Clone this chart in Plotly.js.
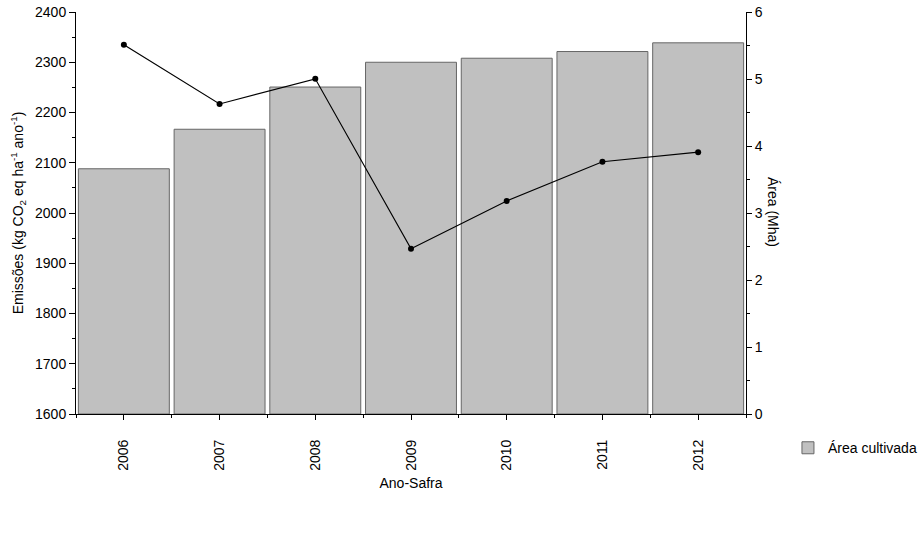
<!DOCTYPE html>
<html>
<head>
<meta charset="utf-8">
<script src="https://cdn.plot.ly/plotly-3.0.1.min.js"></script>
<style>html,body{margin:0;padding:0;background:#fff;}#chart{width:923px;height:537px;}</style>
</head>
<body>
<div id="chart"></div>
<script>
// Data
const years = [2006, 2007, 2008, 2009, 2010, 2011, 2012];
const areaCultivada = [3.66, 4.25, 4.88, 5.25, 5.31, 5.41, 5.54];      // Mha (right axis)
const emissoes = [2335, 2217, 2267, 1929, 2024, 2102, 2121];           // kg CO2 eq ha-1 ano-1 (left axis)
const tickLabels = ['2006', '2007', '2008', '2009', '2010', '2011', '2012'];

const FONT = 'Liberation Sans, Arial, sans-serif';

const traces = [
  {
    type: 'bar',
    x: years,
    y: areaCultivada,
    name: 'Área cultivada',
    xaxis: 'x',
    yaxis: 'y',
    marker: {color: '#c0c0c0', line: {color: '#666666', width: 1}},
    showlegend: true,
    hoverinfo: 'x+y'
  },
  {
    type: 'scatter',
    mode: 'lines+markers',
    x: years,
    y: emissoes,
    name: 'Emissões',
    xaxis: 'x',
    yaxis: 'y2',
    line: {color: '#000000', width: 1.2},
    marker: {color: '#000000', size: 6},
    showlegend: false
  }
];

const layout = {
  width: 923,
  height: 537,
  margin: {l: 76, r: 177, t: 12, b: 123},
  paper_bgcolor: '#ffffff',
  plot_bgcolor: '#ffffff',
  font: {family: FONT, size: 14, color: '#000000'},
  bargap: 0.05,
  xaxis: {
    range: [2005.5, 2012.5],
    tickmode: 'array',
    tickvals: years,
    ticktext: tickLabels,
    tickangle: -90,
    ticks: 'outside',
    ticklen: 5,
    tickcolor: '#000',
    ticklabelstandoff: 14,
    minor: {tickmode: 'linear', tick0: 2005.5, dtick: 1, ticks: 'outside', ticklen: 3, tickcolor: '#000'},
    showline: true,
    linecolor: '#000',
    linewidth: 1,
    showgrid: false,
    zeroline: false,
    automargin: false,
    title: {text: 'Ano-Safra', font: {size: 14}, standoff: 8}
  },
  xaxis2: {
    overlaying: 'x',
    matches: 'x',
    side: 'top',
    tickmode: 'array',
    tickvals: years,
    ticks: 'inside',
    ticklen: 5,
    tickcolor: '#000',
    showticklabels: false,
    showline: true,
    linecolor: '#000',
    linewidth: 1,
    showgrid: false,
    zeroline: false
  },
  yaxis: {
    side: 'right',
    range: [0, 6],
    dtick: 1,
    ticks: 'outside',
    ticklen: 5,
    tickcolor: '#000',
    minor: {dtick: 0.5, ticks: 'outside', ticklen: 3, tickcolor: '#000'},
    showline: true,
    linecolor: '#000',
    linewidth: 1,
    showgrid: false,
    zeroline: false,
    automargin: false
  },
  yaxis2: {
    overlaying: 'y',
    side: 'left',
    range: [1600, 2400],
    dtick: 100,
    ticks: 'outside',
    ticklen: 6,
    tickcolor: '#000',
    minor: {dtick: 50, ticks: 'outside', ticklen: 3, tickcolor: '#000'},
    showline: true,
    linecolor: '#000',
    linewidth: 1,
    showgrid: false,
    zeroline: false,
    automargin: false,
    title: {text: 'Emissões (kg CO<sub>2</sub> eq ha<sup>-1</sup> ano<sup>-1</sup>)', font: {size: 14}, standoff: 8}
  },
  legend: {
    xref: 'container',
    x: 0.8537,
    xanchor: 'left',
    y: -0.085,
    yanchor: 'middle',
    bgcolor: 'rgba(0,0,0,0)',
    font: {size: 14},
    itemwidth: 30
  },
  annotations: [
    {
      text: 'Área (Mha)',
      textangle: 90,
      xref: 'paper', yref: 'paper',
      x: 1.04, y: 0.503,
      xanchor: 'center', yanchor: 'middle',
      showarrow: false,
      font: {size: 14}
    }
  ]
};

Plotly.newPlot('chart', traces, layout, {displayModeBar: false, staticPlot: false});
</script>
</body>
</html>
